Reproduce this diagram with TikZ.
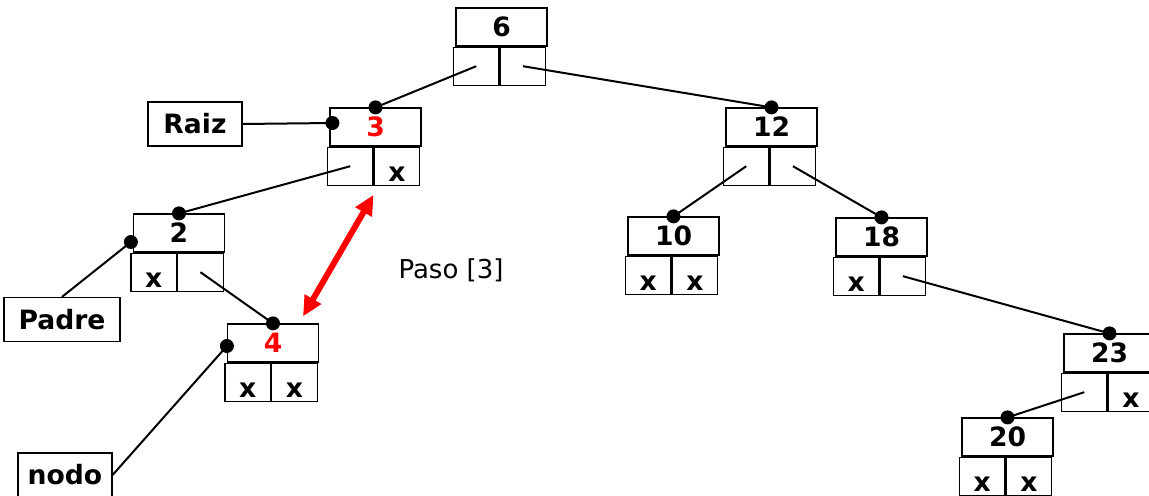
\documentclass[tikz,border=0pt]{standalone}
\usepackage{fontspec}
\setmainfont{DejaVu Sans}
\usetikzlibrary{arrows.meta}

\begin{document}
\begin{tikzpicture}[x=0.5pt,y=-0.5pt,
	caja/.style={draw,line width=0.6pt,minimum width=45.5pt,minimum height=19pt,inner sep=0pt,font=\fontsize{13.3}{15}\selectfont\bfseries},
	celda/.style={draw,line width=0.6pt,minimum width=22.75pt,minimum height=19pt,inner sep=0pt,text height=15pt,text depth=0pt,font=\fontsize{13.3}{15}\selectfont\bfseries},
	etiq/.style={draw,line width=0.6pt,minimum height=22pt,inner sep=0pt,font=\fontsize{13.3}{15}\selectfont\bfseries},
	enlace/.style={line width=1pt},
	punto/.style={circle,fill,inner sep=0pt,minimum size=7pt},
	flecha/.style={red,line width=3pt,{Triangle[length=10pt,width=9pt]}-{Triangle[length=10pt,width=9pt]}}]
\useasboundingbox (0,0) rectangle (1149,496);
% nodos: nombre/x/y/clave/color/izq/der
\foreach \n/\x/\y/\k/\c/\L/\R in {n6/501.5/27/6/black/{}/{}, n3/375.5/127/3/red/{}/x, n12/771.5/127/12/black/{}/{},
	n2/179/233/2/black/x/{}, n10/673.5/236/10/black/x/x, n18/881.5/237/18/black/x/{},
	n4/273/343/4/red/x/x, n23/1109.5/353/23/black/{}/x, n20/1007.5/437/20/black/x/x}
{
	\node[caja,text=\c] (\n) at (\x,\y) {\k};
	\node[celda,anchor=north west] (\n-l) at ([xshift=-1.25pt]\n.south west) {\L};
	\node[celda,anchor=north west] (\n-r) at (\n-l.north east) {\R};
}
% enlaces padre -> hijo
\foreach \p/\h in {n6-l/n3, n6-r/n12, n3-l/n2, n2-r/n4, n12-l/n10, n12-r/n18, n18-r/n23, n23-l/n20}
	\draw[enlace] (\p.center) -- (\h.north) node[punto]{};
% punteros
\node[etiq,minimum width=47pt] (raiz) at (195,124) {Raiz};
\node[etiq,minimum width=58pt] (padre) at (62,319.5) {Padre};
\node[etiq,minimum width=47pt] (nodo) at (65,475) {nodo};
\draw[enlace] (raiz.east) -- ([xshift=1.5pt,yshift=2pt]n3.west) node[punto]{};
\draw[enlace] (padre.north) -- ([xshift=-1pt,yshift=-4.5pt]n2.west) node[punto]{};
\draw[enlace] (nodo.east) -- ([yshift=-1.5pt]n4.west) node[punto]{};
% intercambio
\draw[flecha] ([yshift=-4.5pt]n3-l.south east) -- ([xshift=15pt,yshift=3.5pt]n4.north);
\node[font=\fontsize{13}{15}\selectfont] (paso) at (451,270) {Paso [3]};
\end{tikzpicture}
\end{document}
